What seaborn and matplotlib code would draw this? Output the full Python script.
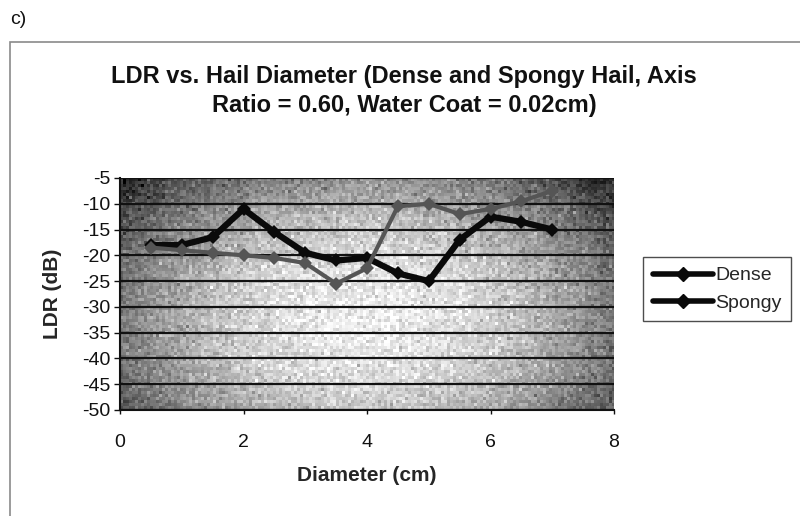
import numpy as np
import pandas as pd
import matplotlib
matplotlib.use("Agg")
import matplotlib.pyplot as plt
import seaborn as sns
from matplotlib.patches import Rectangle

# LDR (dB) against hail diameter (cm)
diameter = [0.5, 1.0, 1.5, 2.0, 2.5, 3.0, 3.5, 4.0, 4.5, 5.0, 5.5, 6.0, 6.5, 7.0]
dense_ldr = [-18.0, -18.0, -16.5, -11.0, -15.5, -19.5, -21.0, -20.5, -23.5, -25.0, -17.0, -12.5, -13.5, -15.0]
spongy_ldr = [-18.5, -19.0, -19.5, -20.0, -20.5, -21.5, -25.5, -22.5, -10.5, -10.0, -12.0, -11.0, -9.5, -7.5]
series_names = ["Dense", "Spongy"]
y_ticks = [-5, -10, -15, -20, -25, -30, -35, -40, -45, -50]
x_ticks = [0, 2, 4, 6, 8]

df = pd.DataFrame({
    "Diameter": diameter * 2,
    "LDR": dense_ldr + spongy_ldr,
    "Series": [series_names[0]] * len(diameter) + [series_names[1]] * len(diameter),
})

sns.set_theme(style="white")
plt.rcParams["font.family"] = ["Liberation Sans", "DejaVu Sans"]
plt.rcParams["axes.unicode_minus"] = False

fig = plt.figure(figsize=(8.0, 5.16), dpi=100)
fig.patch.set_facecolor("white")

# outer chart frame
fig.patches.append(Rectangle((10 / 800, -0.01), 0.99, 1 - 42 / 516 + 0.01,
                             transform=fig.transFigure, fill=False,
                             edgecolor="#8a8a8a", linewidth=1.2))
fig.text(10 / 800, 1 - 20 / 516, "c)", fontsize=14, va="center", ha="left", color="#111111")

ax = fig.add_axes([120 / 800, 1 - 410 / 516, 494 / 800, 232 / 516])

# shaded plot-area fill: light centre fading to dark edges, with coarse grain
ny, nx = 232, 494
yy, xx = np.mgrid[0:1:ny * 1j, 0:1:nx * 1j]
r = np.sqrt(((xx - 0.5) / 0.6) ** 2 + ((yy - 0.6) / 0.8) ** 2)
shade = np.clip(0.93 - 0.65 * r ** 2.0, 0.12, 0.95)
coarse = np.random.default_rng(3).normal(0, 0.07, (ny // 3 + 1, nx // 3 + 1))
grain = np.kron(coarse, np.ones((3, 3)))[:ny, :nx]
shade = np.clip(shade + grain, 0, 1)
ax.imshow(shade, cmap="gray", vmin=0, vmax=1, extent=[0, 8, -50, -5],
          aspect="auto", zorder=0, interpolation="bicubic")

for yv in y_ticks:
    ax.axhline(yv, color="#111111", linewidth=1.6, zorder=1)

palette = {"Dense": "#0a0a0a", "Spongy": "#555555"}
sns.lineplot(data=df, x="Diameter", y="LDR", hue="Series", palette=palette,
             marker="D", markersize=7, markeredgewidth=0, ax=ax, zorder=3,
             legend=False)
for line, lw in zip(ax.get_lines()[-2:], [4.5, 3.0]):
    line.set_linewidth(lw)

ax.set_xlim(0, 8)
ax.set_ylim(-50, -5)
ax.set_xticks(x_ticks)
ax.set_yticks(y_ticks)
ax.tick_params(axis="y", labelsize=14, colors="#111111", length=4, width=1,
               direction="out", left=True, pad=3)
ax.tick_params(axis="x", labelsize=14, colors="#111111", length=3, width=1,
               direction="out", bottom=True, pad=14)
for s in ["top", "right"]:
    ax.spines[s].set_visible(False)
for s in ["left", "bottom"]:
    ax.spines[s].set_color("#111111")
    ax.spines[s].set_linewidth(1.5)

ax.set_xlabel("Diameter (cm)", fontsize=15, fontweight="bold", labelpad=11)
ax.set_ylabel("LDR (dB)", fontsize=15, fontweight="bold", labelpad=14)

fig.text(404 / 800, 1 - 91 / 516,
         "LDR vs. Hail Diameter (Dense and Spongy Hail, Axis\nRatio = 0.60, Water Coat = 0.02cm)",
         ha="center", va="center", fontsize=17, fontweight="bold",
         linespacing=1.3, color="#111111")

handles = [plt.Line2D([], [], color="#0a0a0a", linewidth=4, marker="D", markersize=7)
           for _ in series_names]
leg = fig.legend(handles, series_names, loc="upper left",
                 bbox_to_anchor=(643 / 800, 1 - 257 / 516), frameon=True,
                 fancybox=False, edgecolor="#222222", fontsize=14,
                 handlelength=3.1, handletextpad=0.1, borderpad=0.5,
                 labelspacing=0.5, borderaxespad=0)
leg.get_frame().set_linewidth(1.0)

fig.savefig("out.png", dpi=100, facecolor="white")
